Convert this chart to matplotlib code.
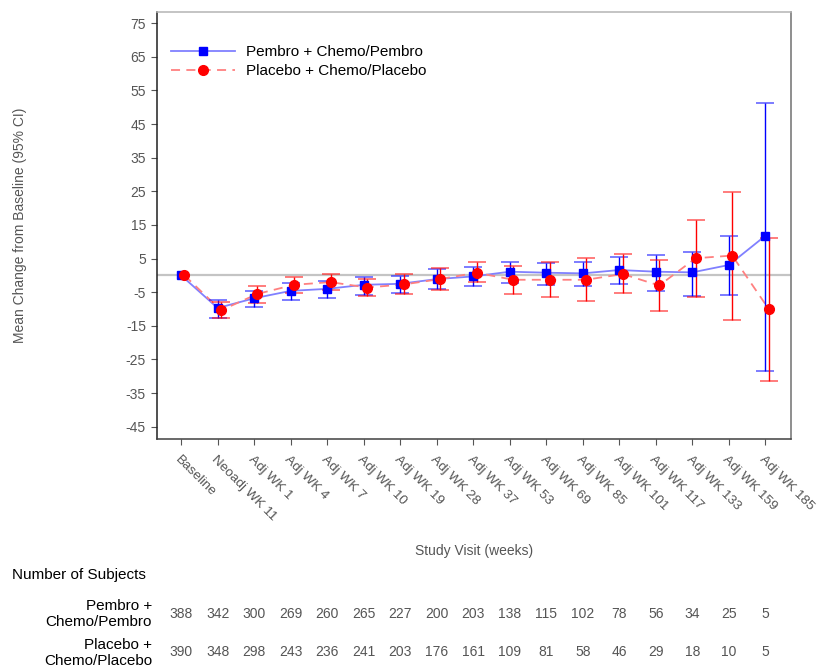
import matplotlib.pyplot as plt
import matplotlib.transforms as mtransforms
import numpy as np

plt.rcParams['font.family'] = ['Liberation Sans', 'DejaVu Sans']
plt.rcParams['axes.unicode_minus'] = False

# Data
visits = ['Baseline', 'Neoadj WK 11', 'Adj WK 1', 'Adj WK 4', 'Adj WK 7', 'Adj WK 10',
          'Adj WK 19', 'Adj WK 28', 'Adj WK 37', 'Adj WK 53', 'Adj WK 69', 'Adj WK 85',
          'Adj WK 101', 'Adj WK 117', 'Adj WK 133', 'Adj WK 159', 'Adj WK 185']
pembro_mean = [0, -9.7, -6.8, -4.6, -4.0, -2.8, -2.5, -1.1, -0.3, 1.1, 0.8, 0.6, 1.6, 1.1, 0.9, 3.1, 11.8]
pembro_lo = [0, -12.7, -9.3, -7.3, -6.6, -5.8, -5.3, -4.1, -3.3, -2.3, -2.8, -3.3, -2.5, -4.5, -6.0, -5.8, -28.3]
pembro_hi = [0, -7.4, -4.5, -2.3, -1.6, -0.5, -0.1, 1.8, 2.6, 3.9, 3.8, 4.1, 5.4, 6.1, 7.1, 11.7, 51.4]
placebo_mean = [0, -10.4, -5.5, -2.8, -2.0, -3.6, -2.7, -1.1, 0.8, -1.3, -1.3, -1.3, 0.4, -3.0, 5.1, 5.9, -10.0]
placebo_lo = [0, -12.8, -8.3, -5.3, -4.3, -6.1, -5.6, -4.3, -2.1, -5.5, -6.5, -7.5, -5.3, -10.5, -6.5, -13.2, -31.3]
placebo_hi = [0, -7.8, -3.3, -0.5, 0.4, -1.1, 0.4, 2.1, 3.9, 2.8, 3.9, 5.1, 6.4, 4.6, 16.5, 24.7, 11.0]
pembro_n = [388, 342, 300, 269, 260, 265, 227, 200, 203, 138, 115, 102, 78, 56, 34, 25, 5]
placebo_n = [390, 348, 298, 243, 236, 241, 203, 176, 161, 109, 81, 58, 46, 29, 18, 10, 5]

fig = plt.figure(figsize=(8.18, 6.71), dpi=100)
ax = fig.add_axes([0.192, 0.346, 0.775, 0.636])

x = np.arange(len(visits))
xp = x + 0.09  # placebo points are nudged right

ax.axhline(0, color='#c4c4c4', lw=1.6, zorder=1)

def draw_group(xs, mean, lo, hi, color, line_color, marker, ms, ls, label):
    mean = np.array(mean)
    yerr = np.vstack([mean - np.array(lo), np.array(hi) - mean])
    eb = ax.errorbar(xs[1:], mean[1:], yerr=yerr[:, 1:], fmt='none', ecolor=color,
                     elinewidth=1.0, capsize=6.5, capthick=1.2, zorder=3)
    for cap in eb[1]:
        cap.set_alpha(0.6)
    ax.plot(xs, mean, color=line_color, lw=1.3, ls=ls, zorder=2)
    ax.plot(xs, mean, ls='none', marker=marker, ms=ms, color=color, zorder=4)
    return ax.plot([], [], color=line_color, lw=1.3, ls=ls, marker=marker, ms=ms,
                   mfc=color, mec=color, label=label)[0]

h1 = draw_group(x, pembro_mean, pembro_lo, pembro_hi, '#0000ff', '#8080ff', 's', 5.5, '-',
                'Pembro + Chemo/Pembro')
h2 = draw_group(xp, placebo_mean, placebo_lo, placebo_hi, '#ff0000', '#ff8080', 'o', 7, (0, (5, 3.5)),
                'Placebo + Chemo/Placebo')

ax.set_xlim(-0.66, 16.7)
ax.set_ylim(-48.6, 78.3)
ax.set_yticks(np.arange(-45, 76, 10))
ax.set_xticks(x)
ax.set_xticklabels(visits, rotation=-45, ha='left', va='top', rotation_mode='anchor')
ax.tick_params(axis='both', labelsize=10, labelcolor='#555555', color='#555555', length=4.5)
ax.tick_params(axis='x', labelsize=9.7, pad=6)

ax.spines['left'].set_color('#202020')
ax.spines['bottom'].set_color('#404040')
ax.spines['top'].set_color('#b4b4b4')
ax.spines['right'].set_color('#707070')
for s in ax.spines.values():
    s.set_linewidth(1.1)

ax.legend(handles=[h1, h2], loc='upper left', bbox_to_anchor=(0.0, 0.955), frameon=False,
          fontsize=11, handlelength=4.2, handletextpad=0.75, labelspacing=0.35, numpoints=1)

fig.text(0.025, 0.664, 'Mean Change from Baseline (95% CI)', rotation=90, ha='center', va='center',
         fontsize=10, color='#555555')
fig.text(0.58, 1 - 551 / 671, 'Study Visit (weeks)', ha='center', va='center', fontsize=10,
         color='#555555')

# Number of subjects table
fig.text(12 / 818, 1 - 575 / 671, 'Number of Subjects', ha='left', va='center', fontsize=11,
         color='black')
fig.text(152 / 818, 1 - 614 / 671, 'Pembro +\nChemo/Pembro', ha='right', va='center',
         fontsize=11, color='black', linespacing=1.25)
fig.text(152 / 818, 1 - 653 / 671, 'Placebo +\nChemo/Placebo', ha='right', va='center',
         fontsize=11, color='black', linespacing=1.25)
trans = mtransforms.blended_transform_factory(ax.transData, fig.transFigure)
for i in range(len(visits)):
    fig.text(x[i], 1 - 614 / 671, str(pembro_n[i]), transform=trans, ha='center', va='center',
             fontsize=10, color='#555555')
    fig.text(x[i], 1 - 652 / 671, str(placebo_n[i]), transform=trans, ha='center', va='center',
             fontsize=10, color='#555555')

fig.savefig('out.png', dpi=100)
